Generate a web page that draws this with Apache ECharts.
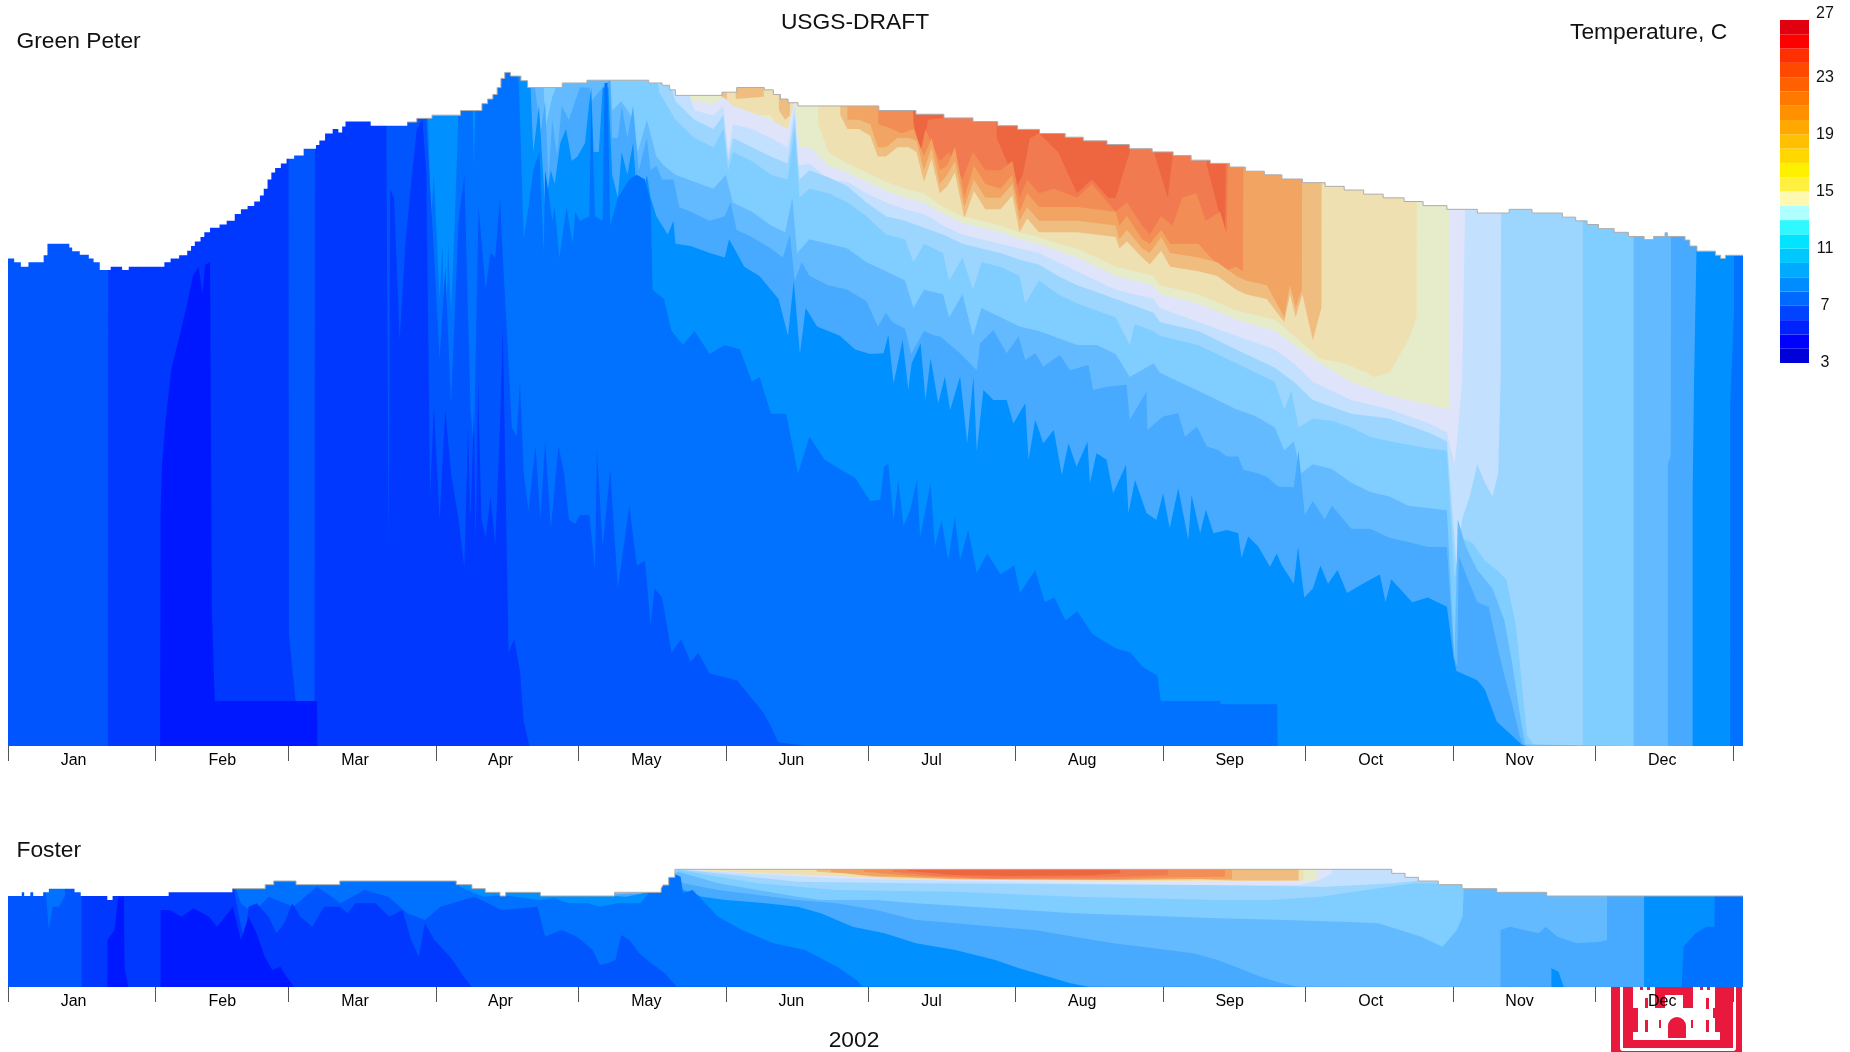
<!DOCTYPE html>
<html><head><meta charset="utf-8"><style>html,body{margin:0;padding:0;background:#fff}#c{width:1850px;height:1052px}</style>
<script src="https://cdn.jsdelivr.net/npm/echarts@6/dist/echarts.min.js"></script></head><body><div id="c"></div><script>
// months
const monthNames=['Jan','Feb','Mar','Apr','May','Jun','Jul','Aug','Sep','Oct','Nov','Dec'];
const monthLabelDays=[13.8,45.1,73,103.6,134.3,164.8,194.3,226,257,286.7,318,348];
const monthTickDays=[0,31,59,90,120,151,181,212,243,273,304,334,363];
// colour bar
const scaleLabelPos=[3,7,11,15,19,23,27.45];
const scaleBands=['#0000d8','#0000ff','#0022ff','#0044ff','#006aff','#008cff','#00aaff','#00c8ff','#00e4ff','#30f8ff','#b0ffff','#fff8b0','#fff040','#fff000','#ffd800','#ffc000','#ffa800','#ff9000','#ff7800','#ff6000','#ff4800','#ff3000','#ff0000','#e00010'];
// band fill colours, coldest to warmest
const bandColors=['#0018ff','#0038ff','#0055ff','#0072ff','#0090ff','#47aaff','#64baff','#80ceff','#9cd6ff','#c4e0ff','#dfe4fa','#e6ebca','#eee0b0','#f0bd80','#f2a563','#f28d55','#f27a50','#ee6640'];

// Green Peter: [day, depth, day, depth, ...]; depth grows downward, 1493 = reservoir bottom
const gpSurface=[0,432,1.3,440,2.7,450,4.3,440,7.5,425,8.3,400,12.9,408,13.5,416,15.1,424,17,432,18,440,19.3,457,21.6,450,24,457,25.4,450,32.9,440,34.2,432,36,425,37.7,415,38.5,405,39.3,395,40.5,385,41.3,375,42.5,365,44.5,358,46,350,47.7,335,49,325,50.4,318,51.8,308,53,295,53.8,280,54.6,260,55.4,245,56.2,235,57.4,225,58.6,215,60.2,208,62.2,193,64.8,185,65.5,175,66.7,160,68.3,150,69.5,158,70.3,145,71,134,76.3,143,84,135,86,127,89.2,120,95.2,110,99.7,95,100.9,85,102,75,102.9,60,103.7,40,104.5,27,105.7,35,107.9,45,109.3,60,116.6,50,121.8,44,134.8,50,137.6,55,139.2,65,140.4,77,150.2,70,153.3,60,159.1,65,161,75,162.5,85,164.1,93,166.2,100,183.2,110,191,118,196.9,126,203,134,208.2,143,212.4,151,217,160,222.4,168,226.2,176,231.2,184,235.9,193,240.7,200,245.1,208,248.9,218,252.9,225,257,233,260.3,242,264.3,250,268,259,272.3,267,277.1,275,281.1,283,285.2,292,289.3,300,293.7,308,297.7,317,302.7,325,309.1,333,315.8,325,320.6,333,327,342,329.8,350,332.2,358,334.6,367,337.9,375,340.9,384,344.2,391,346.2,384,348.6,376,349.1,384,352.8,392,353.8,405,355.3,416,359.2,425,360.3,432,361.3,425,365,425];
const gpD0=[0,1493,32,1493,32.1,980,32.4,880,33.2,780,34.4,670,36.1,600,37.7,530,38.9,470,40.1,450,40.9,510,41.5,445,42.5,440,42.9,1200,43.5,1395,65,1395,65.1,1493,365,1493];
const gpD1=[0,1493,21,1493,21.1,0,59,0,59.1,1250,60.5,1395,64.5,1395,64.6,0,79.5,0,79.6,180,80.1,1080,80.4,280,81.2,300,82.4,610,83.6,400,84.8,270,86,150,87.2,130,88,250,88.8,950,89.6,750,90.8,1000,92,760,93.2,900,94.8,1000,96,1105,96.8,800,97.3,1000,98,770,98.4,1050,98.9,700,99.6,1000,100.5,1040,101.5,950,102.5,1055,103.5,800,104.1,580,104.8,1000,105.3,1290,106.5,1260,107.7,1330,108.5,1440,109.7,1493,365,1493];
const gpD2=[0,0,86,0,88,130,89.5,400,90.8,650,92,450,93.2,750,94.8,350,96,250,97.3,760,98,850,99,320,100.5,500,101.5,420,102.5,430,103.5,300,104.1,430,105,600,106,800,107,820,107.7,700,108.5,900,109.5,980,111,840,112,1000,113,830,114.2,1020,115.8,840,117,900,118,1000,119.3,1010,120.3,990,122.3,990,123.5,1110,123.9,850,125.1,1060,126.7,890,128.3,1150,130.7,970,132.3,1100,134,1090,135.2,1230,136,1150,137.6,1170,139.6,1290,141.6,1260,143.6,1310,145.2,1290,147.6,1335,153.3,1350,155.7,1380,158.9,1420,160.5,1450,162,1485,167.8,1493,365,1493];
const gpD3=[0,0,88,0,88.5,180,89,350,89.6,250,90.8,520,91.4,400,92,650,92.6,400,93.2,550,94,350,94.8,100,95.2,0,97.6,0,97.8,120,98,230,98.3,120,98.6,0,107,0,107.5,60,108.5,390,109.5,320,110.5,240,111.8,200,112.7,420,113,240,114,310,114.5,350,115,320,116,430,117.5,320,118.8,400,119.3,330,120.3,350,122.3,340,122.7,90,123.5,340,125.1,350,125.5,50,126.1,50,126.7,360,128.3,300,130.7,260,132.3,250,134,260,135.2,310,135.6,500,138,520,139.6,590,142,620,144.4,590,147.6,640,150.8,620,154,630,156.5,700,158.1,690,160.5,770,163.7,770,166.2,900,168.6,820,171.8,870,176.6,900,178.2,910,181.4,960,183.5,957,184.3,885,185.2,878,186.3,1001,187.3,914,188.4,1015,189.8,979,191.2,914,191.9,1037,194.1,921,195,1059,196.4,1001,197.8,1088,199.2,994,200.3,1088,202,1023,203.8,1117,206,1074,208.8,1120,211.7,1100,212.9,1160,216.1,1110,218.1,1180,220.1,1170,222.5,1220,224.9,1200,228.2,1250,233,1280,236.2,1290,238.6,1320,241.8,1340,242.5,1395,255,1395,255.1,1402,267,1402,267.1,1493,362.3,1493,362.3,750,363.1,550,363.2,0,365,0];
const gpD4=[0,0,109.7,0,110.5,200,111.7,100,113,320,114.2,240,115,270,116.2,180,117.4,150,118.6,220,119.8,210,121.4,180,122.2,100,122.7,60,123.2,200,124.3,200,125.1,60,126.3,60,127.1,250,128.3,300,129.1,200,130.3,250,131.5,180,132.7,350,134.4,250,135.2,300,136.4,340,137.6,360,138.8,380,140,350,140.4,400,143.6,405,147.6,420,150.8,430,151.7,390,153.3,420,154.9,450,158.1,470,159.7,490,162.1,520,164.1,600,165.3,480,166.6,640,167.8,540,170.2,580,175,600,178.2,630,181.4,640,184.2,638,185.2,598,186.3,704,188.2,609,189.4,718,190.1,660,192,617,193,740,194.1,649,195.7,747,197.1,689,198.2,762,200.3,689,201.8,834,203.1,689,203.8,852,205.2,718,207.3,740,210.1,740,211.5,791,214,747,214.7,870,216.1,783,217.8,834,220,805,221.7,903,223.1,834,224.8,885,227.1,831,227.6,921,229,856,231.1,870,232.5,943,235.2,881,235.7,986,237.1,914,239.5,986,241.6,1001,243,943,244.4,1019,246.2,932,248.3,1044,249,947,250.8,1030,252,979,253.6,1030,256.4,1023,258.8,1030,259.5,1084,260.9,1037,263,1059,265.5,1103,266.9,1074,268,1100,270.5,1140,271.4,1060,272.7,1170,274.5,1150,276.1,1100,277.7,1140,279.7,1110,281.7,1160,285,1140,288.6,1120,289.8,1180,291,1130,295.4,1180,298.7,1170,302.7,1190,304.1,1300,304.7,1330,309.1,1350,310.7,1370,313.2,1440,316.4,1470,318.4,1490,319.6,1493,354.4,1493,354.4,950,354.7,700,355.2,420,355.3,0,365,0];
const gpD5=[0,0,110,0,111,70,112,160,113,90,113.7,260,114.5,130,115.5,210,116.5,100,118,130,120.3,60,122.3,60,122.7,90,126.7,40,127.1,170,128.3,170,129.1,100,130.3,170,131.5,100,132.7,240,134.4,170,135.2,240,136.4,230,137.6,260,140,260,141.2,320,143.6,330,147.6,350,150.8,340,152,310,153.3,370,156.5,385,160.5,410,163,430,164.5,380,165.5,480,167,440,168.6,470,172.6,490,176.6,500,180.6,525,183,580,184.7,550,186,570,188.7,585,190,640,192.7,590,195,600,196.1,602,200.3,638,203.8,675,204.5,617,207.3,588,210.1,638,212.6,602,214,653,216.1,638,217.8,667,221.3,642,223.4,675,227.3,664,228.3,718,231.1,711,235.3,707,236,783,239.5,722,239.7,805,243,776,246.2,769,247.6,820,250.1,798,252.2,841,254.6,849,256.4,863,258.8,863,259.9,892,262.7,899,264.8,907,267.2,928,270.5,930,271.5,850,272.8,990,274.5,960,277,1000,278.5,970,282.6,1020,286.6,1020,290.6,1040,295,1050,298.7,1060,302.7,1060,304.2,1300,304.9,1320,305.2,1080,307.5,1140,309.1,1180,311.5,1190,313.2,1270,314.8,1340,316.4,1400,318,1470,318.8,1493,349.2,1493,349.2,880,349.8,860,349.9,0,365,0];
const gpD6=[0,0,112.5,0,113,150,114.5,80,116,40,118,40,126.7,40,127.1,110,129,90,131,120,132.5,200,134.4,130,136.4,210,138,230,140.4,250,144.4,265,148.4,280,151,250,152.5,310,156.5,330,160.5,360,163.5,375,165,300,166,420,168.6,390,172.6,400,176.6,410,180.6,440,184.7,460,188.7,480,190.5,540,192.7,500,196.7,510,198,560,200.8,510,203,600,204.8,540,208.8,560,212.8,580,216.9,590,220.9,605,224.9,620,229,620,233,640,236,690,241,660,242.3,680,246.3,700,250.4,720,254.4,740,258.4,760,262.4,775,266.5,800,268.5,850,270.5,830,272,900,274.5,880,278.5,890,282.6,920,286.6,940,290.6,950,294.6,970,298.7,975,302.7,980,304.3,1300,305,1000,306.7,1060,309.1,1110,310.7,1130,312.3,1150,314.8,1220,316.4,1310,318,1420,319.2,1490,319.4,1493,342,1493,342,0,365,0];
const gpD7=[0,0,136,0,137,70,140.4,130,144.4,170,148.4,190,150.5,150,151.5,240,152.5,200,156.5,220,160.5,250,164,260,165.5,150,166.5,300,168.6,280,172.6,290,176.6,310,180.6,340,184.7,380,188.7,390,190.5,440,192.7,400,196.7,420,198,480,200.8,430,203,500,204.8,440,208.8,450,212.8,470,214,530,216.9,480,220.9,510,224.9,530,229,545,233,560,236,620,237,575,241,590,242.3,600,250.4,620,258.4,660,266.5,700,268.5,760,270,720,271.5,800,274.5,780,278.5,785,282.6,800,286.6,820,290.6,830,298.7,845,302.7,850,304.3,1130,305.5,1040,308,1050,310.7,1090,313.2,1110,315.2,1130,317.2,1230,318.4,1350,319.6,1470,321.2,1493,331.3,1493,331.3,0,365,0];
const gpD8=[0,0,138,0,140.4,90,144.4,130,148.4,150,150.5,120,151.5,220,152.5,170,156.5,190,160.5,210,164,225,165.5,120,166.5,260,168.6,240,172.6,255,176.6,275,180.6,310,184.7,340,188.7,350,192.7,365,196.7,380,200.8,400,204.8,410,208.8,420,212.8,435,216.9,445,220.9,470,224.9,490,229,505,233,520,237,535,241,550,242.3,570,250.4,590,258.4,630,266.5,670,270.5,700,274.5,740,282.6,770,290.6,780,298.7,810,302.7,830,304.7,1100,305.9,1000,307.5,950,309.1,880,310.7,920,312.3,950,313.5,900,314,700,314.2,0,365,0];
const gpD9=[0,0,141,0,144.4,110,148.4,120,150.5,100,151.5,200,152.5,140,156.5,150,160.5,170,164,190,165.5,100,166,230,168.6,225,172.6,260,176.6,265,180.6,290,184.7,310,188.7,325,192.7,335,194.5,345,196.7,360,200.8,380,204.8,390,208.8,400,212.8,410,216.9,420,220.9,440,224.9,460,229,480,233,500,237,510,241,520,242.3,540,250.4,570,258.4,600,266.5,630,270.5,660,274.5,700,282.6,740,290.6,760,298.7,790,302.7,810,304.3,880,305.1,800,305.9,700,307.1,0,365,0];
const gpD10=[0,0,140,0,142,85,148.4,95,150.5,80,152.5,100,156.5,115,160.5,130,164,150,165.5,90,166.5,190,168.6,190,172.6,230,176.6,245,180.6,265,184.7,285,188.7,300,192.7,310,196.7,335,200.8,355,204.8,365,208.8,375,212.8,390,216.9,400,220.9,415,224.9,430,229,450,233,470,237,480,241,490,242.3,510,250.4,530,258.4,565,266.5,590,270.5,620,274.5,650,282.6,700,290.6,730,298.7,750,303.2,760,303.3,0,365,0];
const gpD11=[0,0,150,0,150.3,190,151.5,100,153.3,110,157,120,160.5,120,163,170,164,220,165,120,166.1,0,170.2,0,170.5,140,172.6,200,176.6,225,180.6,245,184.7,265,188.7,280,192.7,290,196.7,320,200.8,340,204.8,350,208.8,360,212.8,375,216.9,385,220.9,400,224.9,410,229,430,233,450,237,460,241,470,242.3,490,250.4,510,258.4,545,266.5,565,270.5,600,276.1,650,281.1,660,285.8,680,287.4,690,290.6,680,294.6,610,296.3,560,296.4,0,365,0];
const gpD12=[0,0,150,0,150.2,90,151.2,90,151.3,0,153,0,153.1,85,159,80,159.1,0,162,0,162.2,110,163.5,130,164.5,120,164.6,0,175,0,175.1,120,176.6,150,179,150,181.4,165,183,210,184.7,210,187.1,190,189.5,190,191.1,200,192.7,265,194.3,215,196,290,197.6,275,199.2,245,201.2,345,203.2,285,205.6,325,208.8,325,211.3,295,212.8,375,214.4,345,216.9,375,224.9,375,233,385,233.8,410,235.4,395,238.6,430,240.2,445,242.6,415,244.5,450,250.4,460,254.4,470,258.4,500,260.4,510,264.8,520,268.5,570,269.7,510,270.9,560,272.3,510,274.5,610,276.3,540,276.4,0,365,0];
const gpD13=[0,0,176.5,0,176.6,130,179,130,181.4,140,183,190,184.7,190,187.1,170,189.5,170,191.1,175,192.7,240,194.3,190,196,270,197.6,250,199.2,220,201.2,320,203.2,260,205.6,300,208.8,300,211.3,270,212.8,350,214.4,320,216.9,350,224.9,350,233,360,233.8,390,235.4,370,238.6,410,240.2,420,242.6,385,244.5,420,250.4,430,254.4,440,258.4,470,260.4,480,264.8,490,268.5,560,269.7,490,270.9,540,272.2,500,272.3,0,365,0];
const gpD14=[0,0,183,0,183.1,140,186,150,188,160,190.5,150,192.7,210,194.3,170,196,240,197.6,230,199.2,190,201.2,300,203.2,230,205.6,270,208.8,280,211.3,250,212.8,330,214.4,290,216.9,320,224.9,320,233,330,233.8,360,235.4,340,238.6,390,240.2,400,242.6,370,244.5,400,250.4,400,253,430,256,460,258.4,450,259.8,460,260,0,365,0];
const gpD15=[0,0,190,0,190.5,140,192,200,193,150,196,220,198,200,200.8,260,203,200,205.6,240,208.8,240,211.3,220,212.8,300,214.4,260,216.9,290,220,280,224.9,300,228,270,233,330,235.4,310,238.6,360,240.2,380,242.6,340,245,360,247,300,250,290,252,350,255,330,256.4,380,257,0,365,0];
const gpD16=[0,0,190,0,190.5,140,192.2,240,193.5,130,198,125,198.1,0,207.8,0,208,170,210.5,230,212,280,213.5,250,215,170,216.9,160,220.9,200,224.9,290,228,260,231.5,300,233,300,236,200,237,0,241,0,241.2,205,244,300,245,210,246,0,252,0,252.2,230,256,380,256.5,0,365,0];
const gpD17=[0,0,365,0];
const gpBounds=[gpD0,gpD1,gpD2,gpD3,gpD4,gpD5,gpD6,gpD7,gpD8,gpD9,gpD10,gpD11,gpD12,gpD13,gpD14,gpD15,gpD16,gpD17];

// Foster: [day, depth, ...]; 441 = bottom
const fsSurface=[0,168,2.9,157,3.4,168,4.7,157,5.3,168,7.4,157,8.6,146,14,157,15.3,168,20.9,180,22,168,33.8,157,47.2,146,54.1,134,55.9,123,60.6,134,69.8,123,94.3,134,97.6,146,100.4,157,103.5,168,104.7,157,112,168,127.6,157,137.4,146,137.8,135,139,112,140.3,88,291.1,100,293.9,112,296.7,123,300.9,134,305.9,146,313.2,157,323.7,168,365,168];
const fsD0=[0,441,20.9,441,20.9,300,22.4,270,23.2,170,24.4,170,24.5,380,25.3,441,32.1,441,32.1,210,34,210,36.5,230,39,205,42.3,230,44,260,47.3,200,49,300,50.6,230,52.3,280,54,350,55.6,390,57.3,380,58.6,410,60.2,441,365,441];
const fsD1=[0,441,15.5,441,15.5,0,47.3,0,47.5,146,48.6,230,49.8,310,50.6,200,52.3,190,54.8,230,56.5,280,58.1,250,59.8,190,61.5,230,64,260,66.5,200,69.8,200,71.4,220,73.1,190,77.3,190,80.2,230,83,210,84.8,300,86.4,350,87.7,250,89.7,300,93,350,96.4,420,97.6,441,365,441];
const fsD2=[0,0,7.4,0,8,168,8.6,270,9.4,200,10.7,200,12,168,12.1,0,47.3,0,47.5,130,49,190,51.5,220,54.8,170,60,200,65,140,70,190,75,150,80,170,84,220,87.7,240,91,200,98.1,170,103.9,210,111.4,200,113,290,116.4,270,119.7,290,123,330,124.5,375,126.1,370,127.8,360,129,285,130.7,300,132.8,340,135.3,370,138.2,400,140.7,440,141,441,365,441];
const fsD3=[0,0,92,0,95,140,100,170,104,165,112,180,115,175,118,190,122,190,124.5,200,128,190,133,190,137.5,115,140,100,141.5,110,142,160,144,150,149.4,230,154.4,270,161,310,167.7,330,174.4,380,178.5,420,179.8,441,352.1,441,352.5,320,355,280,357.3,260,359,260,359.1,0,365,0];
const fsD4=[0,0,110,0,112,168,125,165,130,170,137,150,139.5,85,142,150,146,170,151,180,159.4,190,166.1,200,171,220,177.7,260,184.4,280,191,310,199.3,330,207.7,360,212.7,385,217.6,405,223.5,430,227.6,441,324.7,441,324.7,385,326.2,395,327.3,441,344.2,441,344.2,0,365,0];
const fsD5=[0,0,112,0,113,168,137,160,139,100,142,130,149.4,150,166.1,180,174.4,190,182.7,210,191,240,199.3,250,207.7,260,216,270,224.3,290,232.6,310,241,325,249.3,340,254.5,360,258.2,380,263.5,410,268,430,271.7,441,314,441,314,270,316,260,319,270,322,280,323.5,260,326,290,330,310,335,305,336.4,300,336.4,0,365,0];
const fsD6=[0,0,112,0,114,168,130,160,137,140,141,95,149.4,130,157.7,150,166.1,170,171,180,182.7,180,191,190,207.7,205,224.3,220,255,235,269,240,280.8,245,288.3,250,292.8,270,297.3,290,301.8,320,304.8,270,306,230,306.7,0,365,0];
const fsD7=[0,0,135,0,137,120,141,90,157.7,130,174.4,150,199.3,155,224.3,170,255,180,265.7,180,276,170,288.3,145,295.8,130,302.9,130,303,0,365,0];
const fsD8=[0,0,137,0,139,110,141,88,166.1,125,191,130,224,133,250.7,135,277,140,291.3,130,296.6,122,296.7,0,365,0];
const fsD9=[0,0,139,0,141,88,149.4,95,174.4,115,207.7,125,232.6,133,250.7,135,271.7,135,275.5,122,278.5,100,279.3,0,365,0];
const fsD10=[0,0,141.5,0,145,90,157.7,100,174.4,108,191,120,207.7,120,250.7,125,273.2,122,275.3,121,275.4,0,365,0];
const fsD11=[0,0,145,0,146,92,166.1,105,176,115,182.7,117,191,118,207.7,125,230,125,250.7,122,272.5,122,272.6,0,365,0];
const fsD12=[0,0,170,0,170.1,95,176,100,182,110,199.3,118,232,120,250.7,118,258,122,271.5,122,271.6,0,365,0];
const fsD13=[0,0,173,0,173.1,98,182.7,108,190,112,207.7,122,232,122,250.7,118,257.5,118,257.6,0,365,0];
const fsD14=[0,0,180,0,180.1,95,190,108,207.7,118,232,118,246,112,256,110,256.1,0,365,0];
const fsD15=[0,0,186,0,186.1,95,195,108,207.7,115,232,112,244,105,244.1,0,365,0];
const fsD16=[0,0,189,0,189.1,92,199,105,212,108,228,106,234,100,234.1,0,365,0];
const fsD17=[0,0,365,0];
const fsBounds=[fsD0,fsD1,fsD2,fsD3,fsD4,fsD5,fsD6,fsD7,fsD8,fsD9,fsD10,fsD11,fsD12,fsD13,fsD14,fsD15,fsD16,fsD17];

const pairs=a=>{const o=[];for(let i=0;i<a.length;i+=2)o.push([a[i],a[i+1]]);return o;};
const FONT='"Liberation Sans",Arial,sans-serif';

function panelSeries(bounds,surface,ax,edgeFrom){
  const out=[];
  const base={type:'line',xAxisIndex:ax,yAxisIndex:ax,showSymbol:false,symbol:'none',silent:true,animation:false,clip:true};
  for(let k=bounds.length-1;k>=0;k--){
    out.push({...base,data:pairs(bounds[k]),lineStyle:{width:0,opacity:0},areaStyle:{color:bandColors[k],opacity:1,origin:'end'}});
  }
  out.push({...base,data:pairs(surface),step:'end',lineStyle:{width:0,opacity:0},areaStyle:{color:'#ffffff',opacity:1,origin:'start'}});
  out.push({...base,data:pairs(surface).filter(p=>p[0]>=edgeFrom),step:'end',lineStyle:{width:1,color:'#acacac'}});
  return out;
}
const timeAxis=(g)=>({type:'value',gridIndex:g,min:0,max:365,splitLine:{show:false},axisLine:{show:false,onZero:false},
  axisTick:{show:true,length:15,customValues:monthTickDays,lineStyle:{color:'#555',width:1}},
  axisLabel:{show:true,customValues:monthLabelDays,margin:7,fontSize:16,fontFamily:FONT,color:'#000',hideOverlap:false,showMinLabel:true,showMaxLabel:true,
    formatter:v=>monthNames[monthLabelDays.indexOf(v)]||''}});
const depthAxis=(g,max)=>({type:'value',gridIndex:g,inverse:true,min:0,max:max,show:false});

const barSeries=scaleBands.map(c=>({type:'bar',xAxisIndex:2,yAxisIndex:2,stack:'scale',data:[1],barWidth:'100%',itemStyle:{color:c},silent:true,animation:false}));

const text=(t,x,y,align)=>({type:'text',z:100,style:{text:t,x:x,y:y,fill:'#111',font:'22.8px '+FONT,textAlign:align||'left',textVerticalAlign:'middle'}});
const R='#e8193c',W='#ffffff';
const rect=(x,y,w,h,f,r)=>({type:'rect',z:-1,shape:{x:x,y:y,width:w,height:h,r:r||0},style:{fill:f}});
const logo=[
 rect(1611,986,131,66,R),
 rect(1620,980,116,71,W,3),rect(1623,980,110,68,R),
 rect(1633,986,22,22,W),rect(1693,986,22,22,W),
 rect(1638,1008,15,12,W),rect(1695,1008,18,12,W),
 rect(1665,995,18,25,W),rect(1653,1008,42,12,W),
 rect(1638,1018,77,15,W),rect(1633,1032,87,8,W),
 rect(1640,987,3,3,R),rect(1647,987,3,3,R),rect(1700,987,3,3,R),rect(1707,987,3,3,R),
 rect(1645,998,3,10,R),rect(1706,998,3,11,R),
 rect(1645,1020,3,12,R),rect(1706,1020,3,12,R),rect(1659,1020,2,8,R),rect(1691,1020,2,8,R),
 rect(1668,1017,18,21,R,[9,9,0,0])
];

const chart=echarts.init(document.getElementById('c'),null,{renderer:'canvas'});
chart.setOption({
 animation:false,backgroundColor:'#fff',
 grid:[
  {left:8,width:1735,top:60,height:686},
  {left:8,width:1735,top:840,height:147},
  {left:1780,width:29,top:20,height:343},
  {left:1780,width:29,top:6,height:357}
 ],
 xAxis:[timeAxis(0),timeAxis(1),
  {type:'category',gridIndex:2,data:['T'],show:false},
  {type:'value',gridIndex:3,show:false}],
 yAxis:[depthAxis(0,1493),depthAxis(1,441),
  {type:'value',gridIndex:2,min:0,max:24,show:false},
  {type:'value',gridIndex:3,min:3,max:28,position:'right',axisLine:{show:false},axisTick:{show:false},splitLine:{show:false},
   axisLabel:{customValues:scaleLabelPos,fontSize:16,fontFamily:FONT,color:'#111',align:'center',margin:16,showMinLabel:true,showMaxLabel:true,formatter:v=>String(Math.floor(v))}}],
 series:[...panelSeries(gpBounds,gpSurface,0,84),...panelSeries(fsBounds,fsSurface,1,47),...barSeries],
 graphic:[...logo,
  text('USGS-DRAFT',855,23,'center'),text('Green Peter',16.5,42),text('Temperature, C',1570,33),
  text('Foster',16.5,851),text('2002',854,1041,'center')]
});
</script></body></html>
